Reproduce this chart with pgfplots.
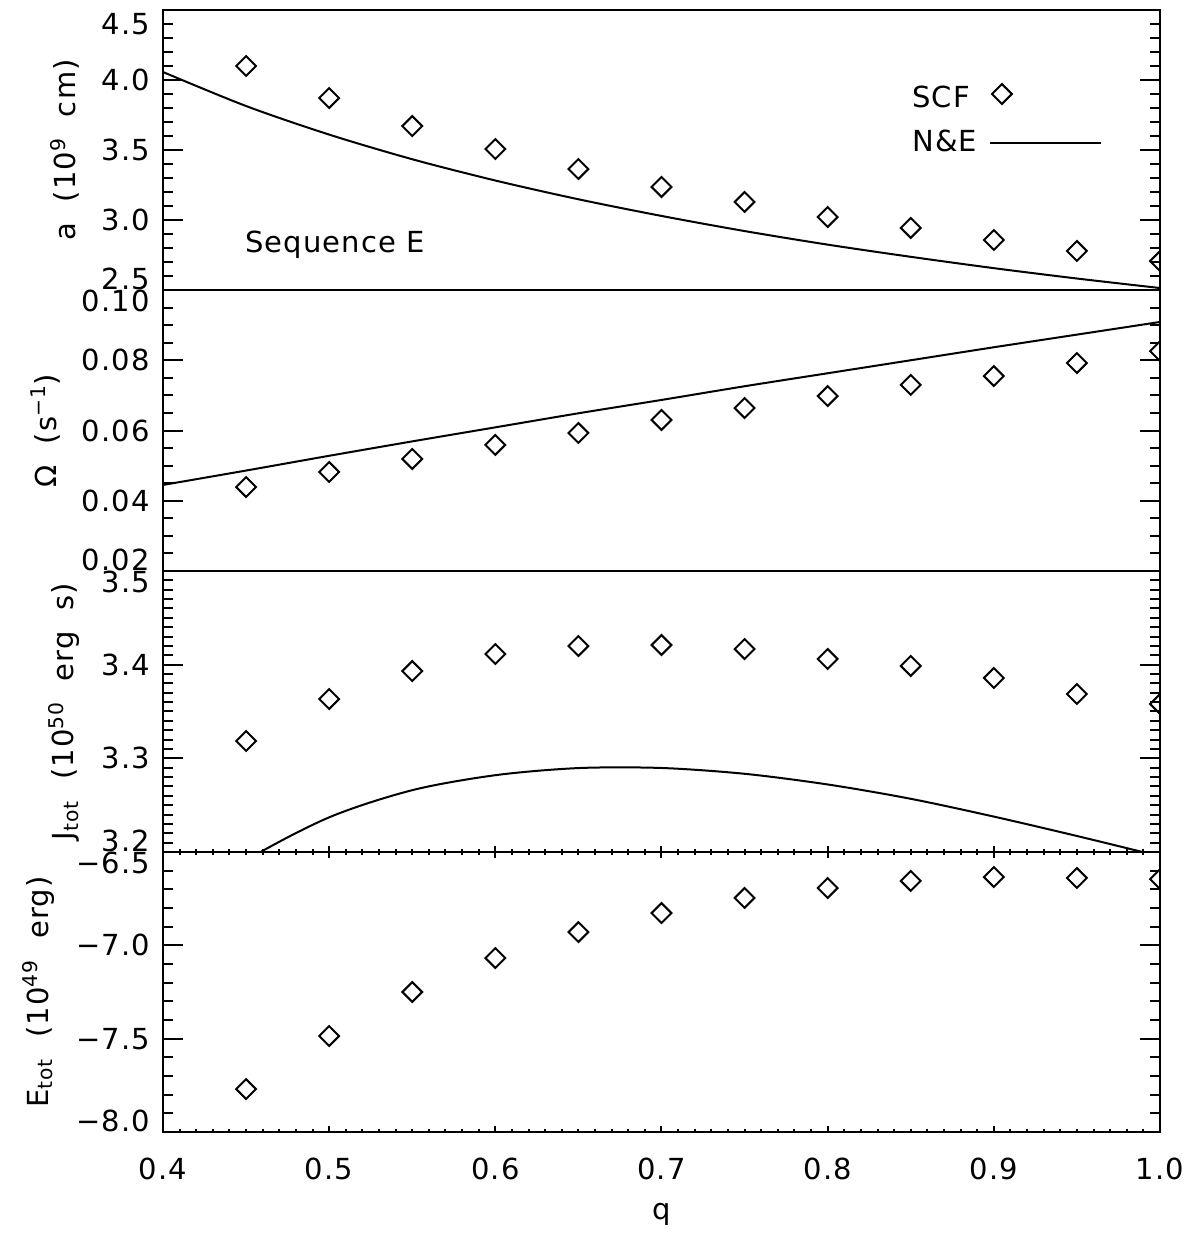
\documentclass[border=0pt]{standalone}
\usepackage{fontspec}
\setmainfont[LetterSpace=4]{DejaVu Sans}
\usepackage{pgfplots}
\pgfplotsset{compat=1.18}
\newcommand{\fs}{\fontsize{14.5}{17}\selectfont}
\newcommand{\up}[1]{\raisebox{5.5pt}[\height][\depth]{#1}}
\newcommand{\dn}[1]{\raisebox{-5.5pt}[\height][\depth]{#1}}
\newcommand{\dnn}[1]{\raisebox{-7pt}[\height][\depth]{#1}}
\pgfplotsset{
  panel/.style={
    scale only axis, width=498.5pt,
    xmin=0.4, xmax=1.0,
    axis line style={line width=1pt},
    every tick/.style={line width=1pt, black},
    major tick length=10pt, minor tick length=5pt,
    tick align=inside,
    ytick pos=both, yticklabel pos=left,
    tick label style={font=\fs},
    label style={font=\fs},
    yticklabel style={xshift=-3pt},
    xticklabel style={yshift=-9.5pt},
    xlabel style={yshift=-5pt},
    ylabel style={at={(ticklabel cs:0.5,4pt)}},
    clip marker paths=true,
    anchor=south west,
    xtick style={/pgfplots/major tick length=2.8pt,/pgfplots/minor tick length=1.4pt},
  },
  scf/.style={only marks, mark=square, mark size=3.5pt, mark options={rotate=45, line width=1pt, solid}, black},
  ne/.style={no marks, black, line width=1pt, smooth},
}
\begin{document}
\begin{tikzpicture}[font=\fs]
\path[use as bounding box] (-81.5pt,-50.5pt) rectangle (517pt,566pt);

% Panel 1: separation a
\begin{axis}[panel, at={(0pt,421pt)}, height=140pt,
  ymin=2.5, ymax=4.5, ytick={2.5,3,3.5,4,4.5},
  yticklabels={{\up{2.5}},3.0,3.5,4.0,{\dnn{4.5}}},
  minor y tick num=4, xtick=\empty,
  ylabel={a\ \ (10\textsuperscript{9}\ \ cm)}]
\addplot[ne] coordinates {
(0.40,4.057) (0.45,3.814) (0.50,3.610) (0.55,3.434) (0.60,3.282) (0.65,3.148)
(0.70,3.029) (0.75,2.921) (0.80,2.824) (0.85,2.737) (0.90,2.656) (0.95,2.582) (1.00,2.514)};
\addplot[scf] coordinates {
(0.45,4.100) (0.50,3.871) (0.55,3.671) (0.60,3.507) (0.65,3.364) (0.70,3.236)
(0.75,3.129) (0.80,3.021) (0.85,2.943) (0.90,2.857) (0.95,2.779) (1.00,2.707)};
\addplot[scf] coordinates {(0.9049,3.90)};
\addplot[black, line width=1pt, no marks] coordinates {(0.8977,3.55) (0.9645,3.55)};
\node[anchor=base west, inner sep=0pt] at (axis cs:0.8507,3.800) {SCF};
\node[anchor=base west, inner sep=0pt] at (axis cs:0.8507,3.486) {N\&E};
\node[anchor=base west, inner sep=0pt] at (axis cs:0.4493,2.771) {Sequence E};
\end{axis}

% Panel 2: Omega
\begin{axis}[panel, at={(0pt,280.5pt)}, height=140.5pt,
  ymin=0.02, ymax=0.10, ytick={0.02,0.04,0.06,0.08,0.10},
  yticklabels={{\up{0.02}},0.04,0.06,0.08,{\dn{0.10}}},
  minor y tick num=3, xtick=\empty,
  ylabel={Ω\ \ (s\textsuperscript{−1})}]
\addplot[ne] coordinates {
(0.40,0.0445) (0.45,0.0486) (0.50,0.0528) (0.55,0.0569) (0.60,0.0609) (0.65,0.0649)
(0.70,0.0687) (0.75,0.0726) (0.80,0.0763) (0.85,0.0800) (0.90,0.0837) (0.95,0.0873) (1.00,0.0909)};
\addplot[scf] coordinates {
(0.45,0.0439) (0.50,0.0482) (0.55,0.0519) (0.60,0.0559) (0.65,0.0593) (0.70,0.0630)
(0.75,0.0664) (0.80,0.0698) (0.85,0.0730) (0.90,0.0755) (0.95,0.0792) (1.00,0.0826)};
\end{axis}

% Panel 3: J_tot
\begin{axis}[panel, at={(0pt,140pt)}, height=140.5pt,
  ymin=3.2, ymax=3.5, ytick={3.2,3.3,3.4,3.5},
  yticklabels={{\up{3.2}},3.3,3.4,{\dn{3.5}}},
  minor y tick num=9,
  xtick={0.4,0.5,0.6,0.7,0.8,0.9,1.0}, xticklabels={}, minor x tick num=9, xtick pos=lower,
  ylabel={J\textsubscript{tot}\ \ (10\textsuperscript{50}\ \ erg\ \ s)}]
\addplot[ne] coordinates {
(0.40,3.131) (0.45,3.191) (0.50,3.237) (0.55,3.266) (0.60,3.282) (0.65,3.2896)
(0.70,3.2897) (0.75,3.2835) (0.80,3.2721) (0.85,3.2568) (0.90,3.2378) (0.95,3.2171) (1.00,3.1954)};
\addplot[scf] coordinates {
(0.45,3.3185) (0.50,3.3633) (0.55,3.3932) (0.60,3.4114) (0.65,3.4199) (0.70,3.4210)
(0.75,3.4167) (0.80,3.4061) (0.85,3.3986) (0.90,3.3858) (0.95,3.3687) (1.00,3.358)};
\end{axis}

% Panel 4: E_tot
\begin{axis}[panel, at={(0pt,0pt)}, height=140pt,
  ymin=-8, ymax=-6.5, ytick={-8,-7.5,-7,-6.5},
  yticklabels={{\up{−8.0}},−7.5,−7.0,{\dn{−6.5}}},
  minor y tick num=4,
  xtick={0.4,0.5,0.6,0.7,0.8,0.9,1.0}, xticklabels={0.4,0.5,0.6,0.7,0.8,0.9,1.0},
  minor x tick num=9, xtick pos=both, xticklabel pos=lower,
  xlabel={q},
  ylabel={E\textsubscript{tot}\ \ (10\textsuperscript{49}\ \ erg)}]
\addplot[scf] coordinates {
(0.45,-7.770) (0.50,-7.486) (0.55,-7.250) (0.60,-7.068) (0.65,-6.929) (0.70,-6.827)
(0.75,-6.746) (0.80,-6.693) (0.85,-6.655) (0.90,-6.634) (0.95,-6.639) (1.00,-6.645)};
\end{axis}
\end{tikzpicture}
\end{document}
